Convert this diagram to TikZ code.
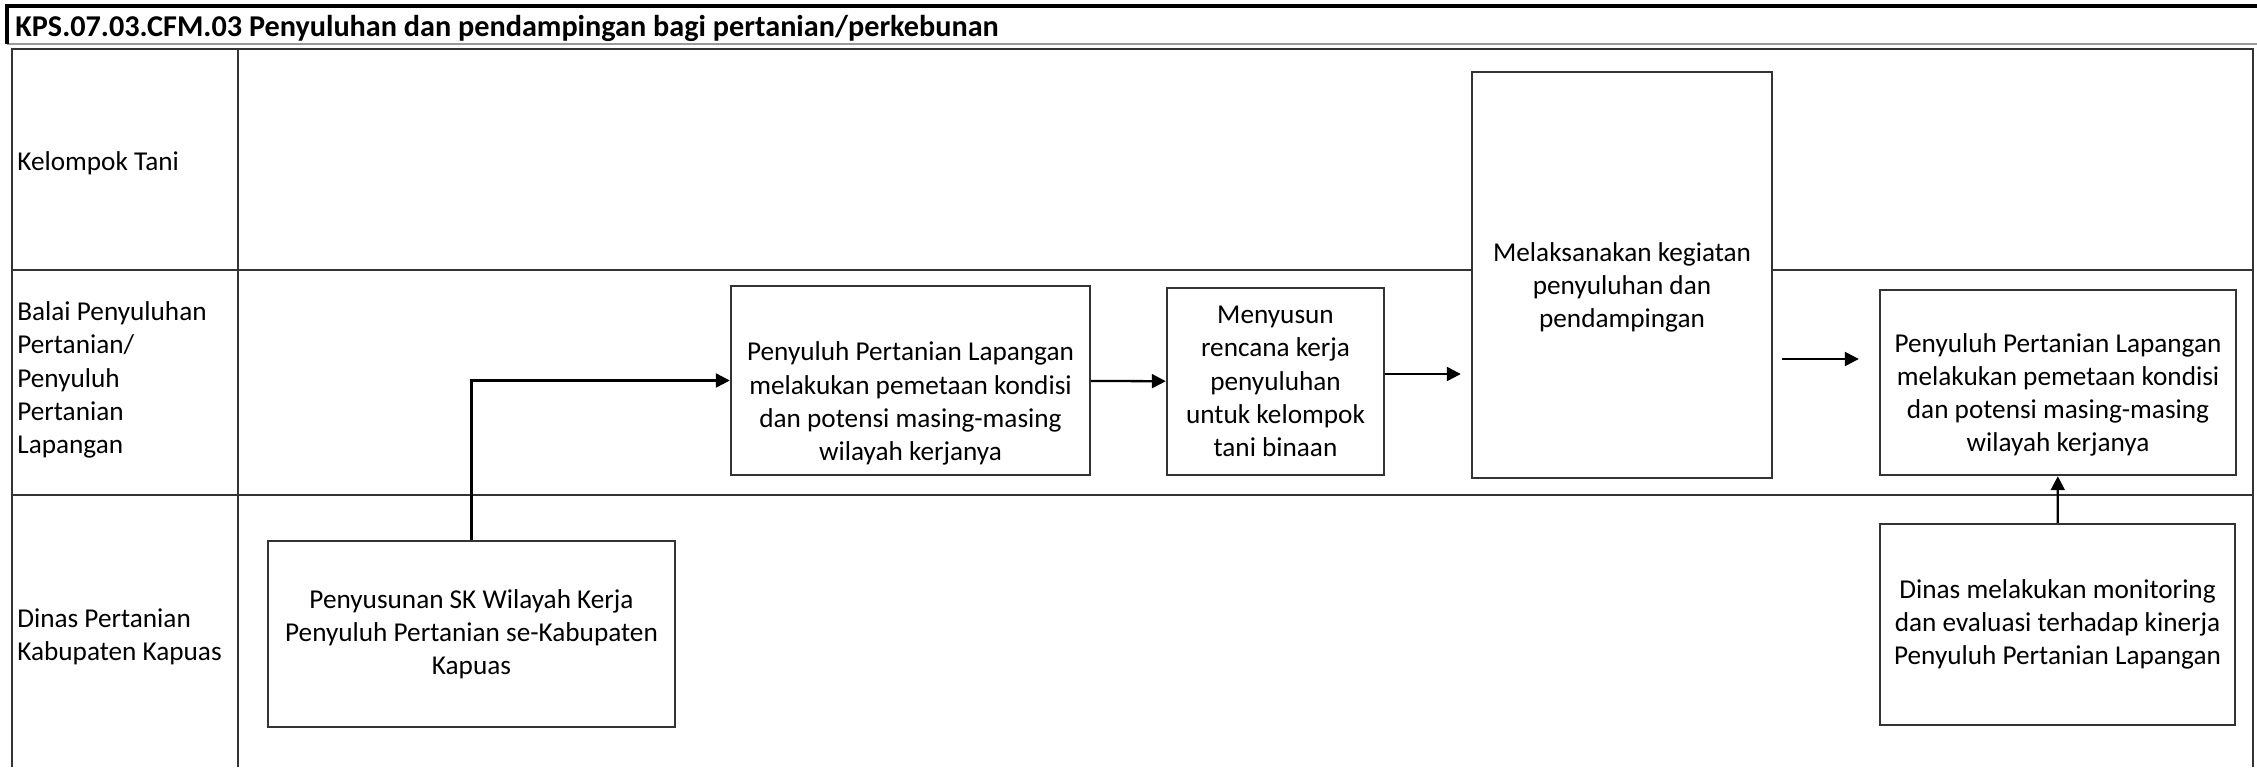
\documentclass[tikz,border=0pt]{standalone}
\usepackage{fontspec}
\setmainfont{Carlito}
\usepackage{tikz}
\usetikzlibrary{positioning,arrows.meta}
\definecolor{lanegray}{HTML}{333333}
\definecolor{rulegray}{HTML}{9A9A9A}
\tikzset{
  % --- swimlane frame ---
  lane/.style={draw=lanegray, line width=1.5pt},
  lanelabel/.style={anchor=west, align=left, inner sep=0pt,
                    font=\fontsize{15.5}{19}\selectfont},
  % --- process boxes (white, so they hide the lane lines) ---
  proc/.style={draw=lanegray, fill=white, line width=1.4pt, align=center,
               inner sep=2pt, font=\fontsize{15.5}{18.9}\selectfont},
  % --- connectors ---
  flow/.style={line width=1.3pt, draw=black,
               -{Triangle[length=2.8mm,width=2.8mm]}},
}
% first line pushed down a little, as in the source chart
\newcommand{\padtop}[1][25pt]{\rule{0pt}{#1}}

\begin{document}
\begin{tikzpicture}[x=0.02cm, y=-0.02cm]
  \useasboundingbox (0,0) rectangle (2257,767);

  % --- title bar ---
  \draw[rulegray, line width=0.6pt] (7,44) -- (2257,44);
  \draw[black, line width=2pt] (7,44) -- (7,6) -- (2257,6);
  \node[anchor=west, inner sep=0pt, font=\fontsize{17.2}{20}\selectfont\bfseries]
        (title) at (15,28) {KPS.07.03.CFM.03 Penyuluhan dan pendampingan bagi pertanian/perkebunan};

  % --- lanes ---
  \draw[lane] (12,767) -- (12,49) -- (2253,49) -- (2253,767);
  \draw[lane] (238,49) -- (238,767);
  \draw[lane] (12,270) -- (2253,270);
  \draw[lane] (12,495) -- (2253,495);
  \node[lanelabel] (tani)  at (17,163) {Kelompok Tani};
  \node[lanelabel] (balai) at (17,380) {Balai Penyuluhan\\Pertanian/\\Penyuluh\\Pertanian\\Lapangan};
  \node[lanelabel] (dinas) at (17,637) {Dinas Pertanian\\Kabupaten Kapuas};

  % --- process boxes ---
  \node[proc, minimum width=8.14cm, minimum height=3.72cm] (sk) at (471.5,634)
        {Penyusunan SK Wilayah Kerja\\Penyuluh Pertanian se-Kabupaten\\Kapuas};
  \node[proc, minimum width=7.18cm, minimum height=3.78cm] (ppl1) at (910.5,380.5)
        {\padtop[37pt]Penyuluh Pertanian Lapangan\\melakukan pemetaan kondisi\\dan potensi masing-masing\\wilayah kerjanya};
  \node[proc, minimum width=4.34cm, minimum height=3.74cm] (rencana) at (1275.5,381.5)
        {Menyusun\\rencana kerja\\penyuluhan\\untuk kelompok\\tani binaan};
  \node[proc, minimum width=6cm, minimum height=8.12cm] (laksana) at (1622,275)
        {\padtop Melaksanakan kegiatan\\penyuluhan dan\\pendampingan};
  \node[proc, minimum width=7.12cm, minimum height=3.7cm] (ppl2) at (2058,382.5)
        {\padtop Penyuluh Pertanian Lapangan\\melakukan pemetaan kondisi\\dan potensi masing-masing\\wilayah kerjanya};
  \node[proc, minimum width=7.1cm, minimum height=4.02cm] (monev) at (2057.5,624.5)
        {Dinas melakukan monitoring\\dan evaluasi terhadap kinerja\\Penyuluh Pertanian Lapangan};

  % --- flows ---
  \coordinate (rk) at (1420,374);
  \coordinate (lk) at (1800,359);
  \draw[flow] (sk.north) |- (ppl1.west);
  \draw[flow] (ppl1) -- (rencana);
  \draw[flow, shorten >=0.2cm] (rencana.east |- rk) -- (laksana.west |- rk);
  \draw[flow, shorten <=0.18cm, shorten >=0.4cm] (laksana.east |- lk) -- (ppl2.west |- lk);
  \draw[flow] (monev) -- (ppl2);
\end{tikzpicture}
\end{document}
